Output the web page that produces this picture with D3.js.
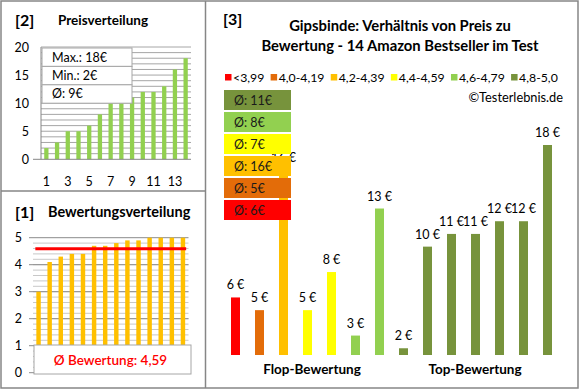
<!DOCTYPE html>
<html><head><meta charset="utf-8">
<script src="https://cdn.jsdelivr.net/npm/d3@7"></script>
<style>
body{margin:0;background:#fff;}
svg{display:block;font-family:Lato, "Open Sans", sans-serif;}
</style></head>
<body>
<svg id="c" width="580" height="390"></svg>
<script>
// ---- data ----
const ratingClasses = ["<3,99","4,0-4,19","4,2-4,39","4,4-4,59","4,6-4,79","4,8-5,0"];
const classColors = ["#FF0000","#E36C09","#FFC000","#FFFF00","#92D050","#77933C"];
const classAvgPrice = [6,5,16,7,8,11];
const prices = [6,5,16,5,8,3,13,2,10,11,11,12,12,18];
const priceClass = [0,1,2,3,3,4,4,5,5,5,5,5,5,5];
const groups = ["Flop-Bewertung","Top-Bewertung"];
const sortedPrices = [2,3,5,5,6,8,10,10,11,12,12,13,16,18];
const priceTicks = [0,5,10,15,20];
const productIdx = [1,2,3,4,5,6,7,8,9,10,11,12,13,14];
const priceXTicks = [1,3,5,7,9,11,13];
const priceStats = ["Max.: 18€","Min.: 2€","Ø: 9€"];
const ratings = [3.0,4.1,4.3,4.4,4.4,4.7,4.7,4.8,4.9,4.9,5.0,5.0,5.0,5.0];
const ratingTicks = [0,1,2,3,4,5];
const avgRating = 4.59;
const title = ["Gipsbinde: Verhältnis von Preis zu","Bewertung - 14 Amazon Bestseller im Test"];

const svg = d3.select("#c");
const border = "#868686";

// panels
svg.append("rect").attr("x",1).attr("y",1).attr("width",577).attr("height",387).attr("fill","#fff").attr("stroke",border).attr("stroke-width",1.5);
svg.append("line").attr("x1",205.5).attr("x2",205.5).attr("y1",1).attr("y2",388).attr("stroke",border).attr("stroke-width",1.5);
svg.append("line").attr("x1",1).attr("x2",205.5).attr("y1",191).attr("y2",191).attr("stroke",border).attr("stroke-width",1.5);

// ===== Panel [2] Preisverteilung =====
svg.append("text").attr("x",15).attr("y",26).attr("font-size",16).attr("font-weight","bold").text("[2]");
svg.append("text").attr("x",58).attr("y",25).attr("font-size",13.5).attr("font-weight","bold").text("Preisverteilung");
const py = d3.scaleLinear().domain([0,20]).range([159.3,47]);
const px = d3.scaleBand().domain(productIdx).range([41,191]).paddingInner(0.6).paddingOuter(0.3);
const p2 = svg.append("g");
p2.selectAll("line.g").data(d3.range(1,21)).join("line")
  .attr("x1",41).attr("x2",191).attr("y1",d=>py(d)).attr("y2",d=>py(d))
  .attr("stroke","#A6A6A6").attr("stroke-width",1);
p2.selectAll("rect.b").data(sortedPrices).join("rect")
  .attr("x",(d,i)=>px(productIdx[i])).attr("width",px.bandwidth())
  .attr("y",d=>py(d)).attr("height",d=>py(0)-py(d)).attr("fill","#92D050");
p2.append("line").attr("x1",41).attr("x2",41).attr("y1",47).attr("y2",159.3).attr("stroke",border);
p2.append("line").attr("x1",33).attr("x2",191).attr("y1",159.3).attr("y2",159.3).attr("stroke",border);
p2.selectAll("text.yl").data(priceTicks).join("text")
  .attr("x",29).attr("y",d=>py(d)+4.5).attr("text-anchor","end").attr("font-size",12.5).text(d=>d);
p2.selectAll("text.xl").data(priceXTicks).join("text")
  .attr("x",d=>px(d)+px.bandwidth()/2).attr("y",186).attr("text-anchor","middle").attr("font-size",12.5).text(d=>d);
// stats box
const sb = p2.append("g");
sb.selectAll("rect").data(priceStats).join("rect")
  .attr("x",42).attr("y",(d,i)=>48+i*18.4).attr("width",90).attr("height",18.4)
  .attr("fill","#fff").attr("stroke","#A6A6A6");
sb.selectAll("text").data(priceStats).join("text")
  .attr("x",52).attr("y",(d,i)=>48+i*18.4+13.5).attr("font-size",12.5).text(d=>d);

// ===== Panel [1] Bewertungsverteilung =====
svg.append("text").attr("x",15).attr("y",218).attr("font-size",16).attr("font-weight","bold").text("[1]");
svg.append("text").attr("x",48).attr("y",217).attr("font-size",14.5).attr("font-weight","bold").text("Bewertungsverteilung");
const ry = d3.scaleLinear().domain([0,5]).range([372.7,237.7]);
const rx = d3.scaleBand().domain(productIdx).range([33,188.5]).paddingInner(0.6).paddingOuter(0.3);
const p1 = svg.append("g");
p1.selectAll("line.m").data(d3.range(0,25).map(i=>i*0.2)).join("line")
  .attr("x1",33).attr("x2",188.5).attr("y1",d=>ry(d)).attr("y2",d=>ry(d))
  .attr("stroke","#C8C8C8");
p1.selectAll("line.g").data(ratingTicks).join("line")
  .attr("x1",29).attr("x2",188.5).attr("y1",d=>ry(d)).attr("y2",d=>ry(d))
  .attr("stroke","#8C8C8C");
p1.selectAll("rect.b").data(ratings).join("rect")
  .attr("x",(d,i)=>rx(productIdx[i])).attr("width",rx.bandwidth())
  .attr("y",d=>ry(d)).attr("height",d=>ry(0)-ry(d)).attr("fill","#FFC000");
p1.append("line").attr("x1",rx(productIdx[0])-1).attr("x2",rx(productIdx[13])+rx.bandwidth()+1)
  .attr("y1",ry(avgRating)).attr("y2",ry(avgRating)).attr("stroke","#FF0000").attr("stroke-width",3);
p1.selectAll("text.yl").data(ratingTicks).join("text")
  .attr("x",22).attr("y",d=>ry(d)+4.5).attr("text-anchor","end").attr("font-size",12.5).text(d=>d);
p1.append("rect").attr("x",34).attr("y",345).attr("width",157).attr("height",29).attr("fill","#fff").attr("stroke","#A6A6A6");
p1.append("text").attr("x",110.5).attr("y",364.5).attr("text-anchor","middle").attr("font-size",13.5).attr("font-weight",600).attr("fill","#FF0000")
  .text("Ø Bewertung: " + d3.format(".2f")(avgRating).replace(".",","));

// ===== Panel [3] main =====
svg.append("text").attr("x",223).attr("y",25).attr("font-size",16).attr("font-weight","bold").text("[3]");
svg.selectAll("text.t").data(title).join("text")
  .attr("x",400).attr("y",(d,i)=>31+i*19.5).attr("text-anchor","middle").attr("font-size",14.8).attr("font-weight","bold").text(d=>d);
// legend
const lg = svg.append("g");
let lx = 225;
ratingClasses.forEach((c,i)=>{
  lg.append("rect").attr("x",lx).attr("y",74).attr("width",6.5).attr("height",6.5).attr("fill",classColors[i]);
  const t = lg.append("text").attr("x",lx+8).attr("y",81.5).attr("font-size",12.3).text(c);
  lx += 8 + t.node().getComputedTextLength() + 6.3;
});
svg.append("text").attr("x",563).attr("y",102).attr("text-anchor","end").attr("font-size",12.8).text("©Testerlebnis.de");

const my = d3.scaleLinear().domain([1.47,18]).range([355,145]);
const mx = d3.scaleBand().domain(productIdx).range([223.5,559.5]).paddingInner(0.625).paddingOuter(0.3125);
const m = svg.append("g");
m.selectAll("rect.b").data(prices).join("rect")
  .attr("x",(d,i)=>mx(productIdx[i])).attr("width",mx.bandwidth())
  .attr("y",d=>my(d)).attr("height",d=>my(my.domain()[0])-my(d)).attr("fill",(d,i)=>classColors[priceClass[i]]);
m.selectAll("text.v").data(prices).join("text")
  .attr("x",(d,i)=>mx(productIdx[i])+mx.bandwidth()/2).attr("y",d=>my(d)-8)
  .attr("text-anchor","middle").attr("font-size",12.5).text(d=>d+" €");
// group labels
m.selectAll("text.grp").data(groups).join("text")
  .attr("x",(d,i)=> i===0 ? 312 : 475).attr("y",374).attr("text-anchor","middle")
  .attr("font-size",13.5).attr("font-weight","bold").text(d=>d);
// average boxes (top = best class)
const order = d3.range(ratingClasses.length).reverse();
const ab = svg.append("g");
ab.selectAll("rect").data(order).join("rect")
  .attr("x",224).attr("y",(d,i)=>90+i*22).attr("width",67).attr("height",20).attr("fill",d=>classColors[d]);
ab.selectAll("text").data(order).join("text")
  .attr("x",234).attr("y",(d,i)=>90+i*22+14.5).attr("font-size",12.5).attr("fill","#1a1a1a").text(d=>"Ø: "+classAvgPrice[d]+"€");
</script>
</body></html>
